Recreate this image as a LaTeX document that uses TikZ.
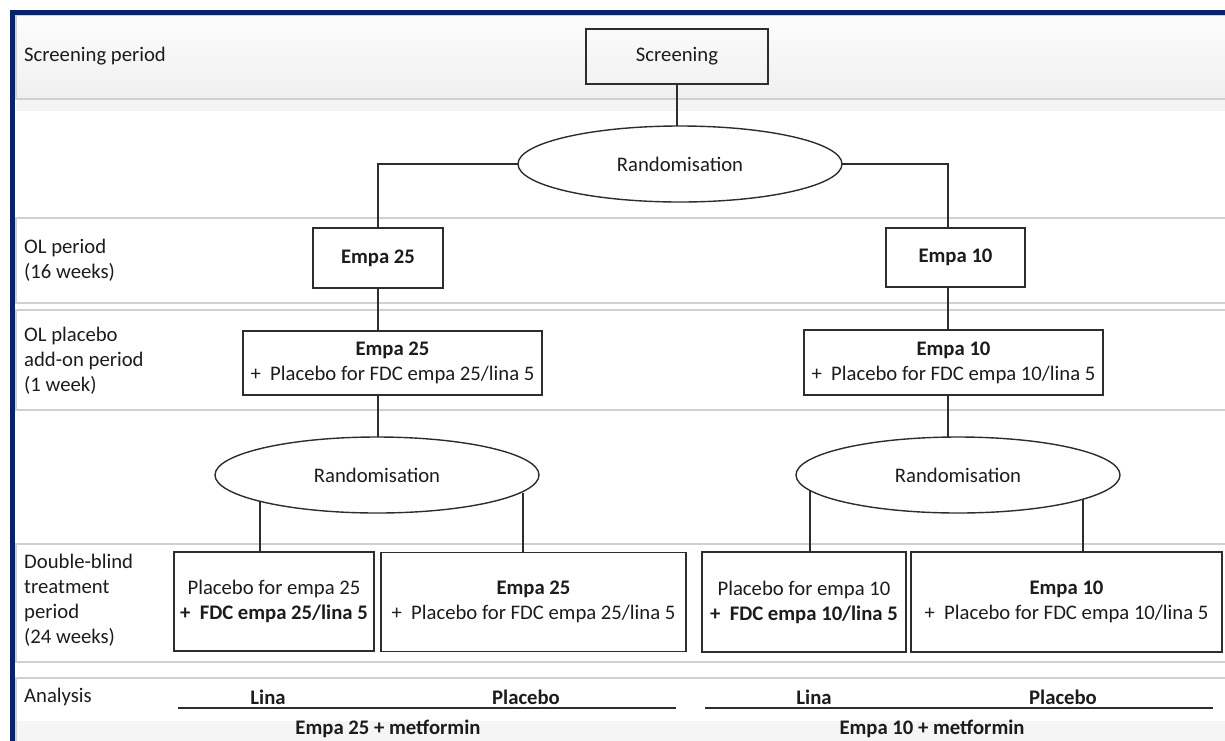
\documentclass[tikz,border=0pt]{standalone}
\usepackage{fontspec}
\setmainfont{Carlito}
\usetikzlibrary{shapes.geometric,calc}
\definecolor{navy}{RGB}{8,36,102}
\definecolor{txt}{RGB}{28,28,28}
\definecolor{boxc}{RGB}{45,45,45}
\definecolor{bandc}{RGB}{208,208,208}
\begin{document}
\begin{tikzpicture}[x=1pt,y=-1pt,
  font=\fontsize{20.7}{25}\selectfont, text=txt,
  band/.style={draw=bandc, line width=1.2pt},
  box/.style={draw=boxc, line width=1.4pt, rectangle, inner sep=0pt, align=center},
  rnd/.style={draw=boxc, line width=1.4pt, ellipse, inner sep=0pt, outer sep=0pt, minimum width=324pt, minimum height=76pt},
  conn/.style={draw=boxc, line width=1.6pt},
  lab/.style={anchor=west, align=left, inner sep=0pt},
  rule/.style={draw=boxc, line width=1.5pt},
  bl/.style={font=\fontsize{20.7}{25}\selectfont\bfseries, inner sep=0pt}]
\useasboundingbox (0,0) rectangle (1225,740);
\clip (0,0) rectangle (1225,740);
% bands
\fill[top color=gray!2, bottom color=gray!12] (16,15) rectangle (1240,99);
\fill[gray!9] (16,99) rectangle (1240,111);
\draw[band] (16,15) rectangle (1240,99);
\draw[band] (16,218) rectangle (1240,303);
\draw[band] (16,310) rectangle (1240,410);
\draw[band] (16,544) rectangle (1240,662);
\fill[gray!8] (16,721) rectangle (1240,750);
\draw[band] (16,678) rectangle (1240,750);
% navy frame
\fill[navy] (10,10) rectangle (1240,15);
\fill[navy] (10,10) rectangle (15,750);
% left labels
\node[lab] (l1) at (24,56) {Screening period};
\node[lab] (l2) at (24,260) {OL period\\(16 weeks)};
\node[lab] (l3) at (24,361) {OL placebo\\add-on period\\(1 week)};
\node[lab] (l4) at (24,600) {Double-blind\\treatment\\period\\(24 weeks)};
\node[lab] (l5) at (24,697) {Analysis};
% nodes
\node[box, minimum width=182pt, minimum height=55pt] (scr) at (677,56.5) {Screening};
\node[rnd] (rand1) at (680,164) {Randomisation};
\node[box, minimum width=130pt, minimum height=60pt] (e25) at (378,258) {\textbf{Empa 25}};
\node[box, minimum width=139pt, minimum height=59pt] (e10) at (955.5,257.5) {\textbf{Empa 10}};
\node[box, minimum width=299pt, minimum height=64pt] (olp25) at (392.5,363) {\textbf{Empa 25}\\+\hspace{0.45em}Placebo for FDC empa 25/lina 5};
\node[box, minimum width=299pt, minimum height=65pt] (olp10) at (953.5,362.5) {\textbf{Empa 10}\\+\hspace{0.45em}Placebo for FDC empa 10/lina 5};
\node[rnd] (rand2L) at (377,475) {Randomisation};
\node[rnd] (rand2R) at (958,475) {Randomisation};
\node[box, minimum width=200pt, minimum height=99pt] (db1) at (274,601.5) {Placebo for empa 25\\\textbf{+\hspace{0.45em}FDC empa 25/lina 5}};
\node[box, minimum width=305pt, minimum height=99pt] (db2) at (533.5,602) {\textbf{Empa 25}\\+\hspace{0.45em}Placebo for FDC empa 25/lina 5};
\node[box, minimum width=204pt, minimum height=100pt] (db3) at (804,602) {Placebo for empa 10\\\textbf{+\hspace{0.45em}FDC empa 10/lina 5}};
\node[box, minimum width=311pt, minimum height=100pt] (db4) at (1066.5,602) {\textbf{Empa 10}\\+\hspace{0.45em}Placebo for FDC empa 10/lina 5};
% connectors
\coordinate (tr) at (948,0);
\coordinate (bx1) at (260,0);
\coordinate (bx2) at (523,0);
\coordinate (bx3) at (810,0);
\coordinate (bx4) at (1083,0);
\draw[conn] (scr.south) -- (scr.south |- rand1.north);
\draw[conn] (rand1.west) -| (e25.north);
\draw[conn] (rand1.east) -| (tr |- e10.north);
\draw[conn] (e25.south) -- (e25.south |- olp25.north);
\draw[conn] (e25.south |- olp25.south) -- (e25.south |- rand2L.north);
\draw[conn] (tr |- e10.south) -- (tr |- olp10.north);
\draw[conn] (tr |- olp10.south) -- (tr |- rand2R.north);
\draw[conn] (bx1 |- rand2L.192.5) -- (bx1 |- db1.north);
\draw[conn] (bx2 |- rand2L.353.5) -- (bx2 |- db2.north);
\draw[conn] (bx3 |- rand2R.186) -- (bx3 |- db3.north);
\draw[conn] (bx4 |- rand2R.349) -- (bx4 |- db4.north);
% analysis
\node[bl] (lina1) at (268,697) {Lina};
\node[bl] (plac1) at (526,697) {Placebo};
\node[bl] (lina2) at (814,697) {Lina};
\node[bl] (plac2) at (1063,697) {Placebo};
\draw[rule] (178,708) -- (676,708);
\draw[rule] (705,708) -- (1213,708);
\node[bl] (met25) at (388,729) {Empa 25 + metformin};
\node[bl] (met10) at (932,729) {Empa 10 + metformin};
\end{tikzpicture}
\end{document}
